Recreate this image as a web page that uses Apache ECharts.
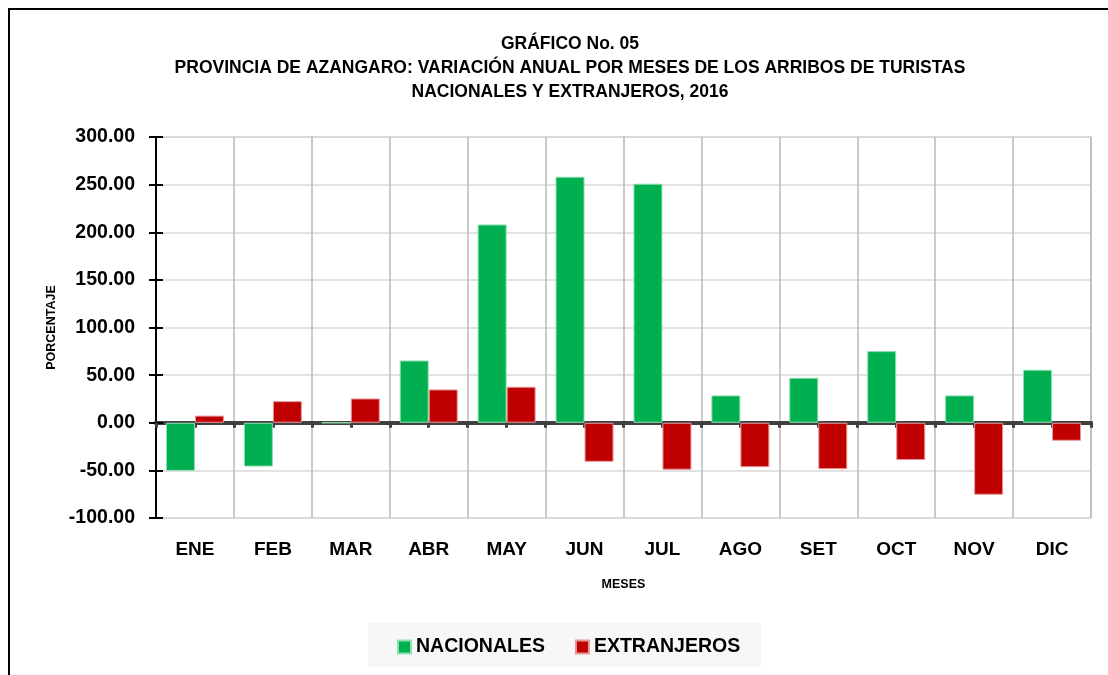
<!DOCTYPE html>
<html>
<head>
<meta charset="utf-8">
<script src="https://cdn.jsdelivr.net/npm/echarts@6/dist/echarts.min.js"></script>
<style>
  html, body { margin: 0; padding: 0; background: #fff; }
  #grafico { width: 1108px; height: 675px; }
</style>
</head>
<body>
<div id="grafico"></div>
<script>
const meses = ['ENE', 'FEB', 'MAR', 'ABR', 'MAY', 'JUN', 'JUL', 'AGO', 'SET', 'OCT', 'NOV', 'DIC']
const nacionales = [-50.5, -46.0, 0.0, 65.4, 208.2, 258.3, 251.0, 28.7, 47.2, 75.2, 28.7, 55.7]
const extranjeros = [7.5, 22.7, 25.5, 35.0, 37.8, -41.0, -49.3, -46.6, -48.7, -39.2, -75.6, -18.9]
const yTicks = { min: -100, max: 300, interval: 50 }

const FONT = "'Liberation Sans', Arial, sans-serif"
const VERDE = '#00b050'
const ROJO = '#c00000'
const EJE_CERO = '#404040'

const chart = echarts.init(document.getElementById('grafico'))

// eje auxiliar para la linea de cero con marcas en bordes y centros de categoria
function ejeCero(inside) {
  return {
    type: 'value',
    min: 0,
    max: meses.length * 2,
    interval: 1,
    position: inside ? 'top' : 'bottom',
    axisLine: { show: true, onZero: true, lineStyle: { color: EJE_CERO, width: 4 } },
    axisTick: { show: true, inside: inside, length: 5, lineStyle: { color: EJE_CERO, width: 3 } },
    axisLabel: { show: false },
    splitLine: { show: false },
    silent: true
  }
}

chart.setOption({
  animation: false,
  title: {
    text: 'GRÁFICO No. 05\nPROVINCIA DE AZANGARO: VARIACIÓN ANUAL POR MESES DE LOS ARRIBOS DE TURISTAS\nNACIONALES Y EXTRANJEROS, 2016',
    left: 565,
    textAlign: 'center',
    top: 27,
    textStyle: {
      fontFamily: FONT,
      fontSize: 17.5,
      fontWeight: 'bold',
      color: '#000',
      lineHeight: 24
    }
  },
  graphic: [
    {
      type: 'polyline',
      shape: { points: [[9, 675], [9, 9], [1108, 9]] },
      style: { stroke: '#000', lineWidth: 2, fill: null },
      silent: true
    },
    {
      type: 'rect',
      shape: { x: 368, y: 623, width: 393, height: 44 },
      style: { fill: '#f7f7f7' },
      z: -1,
      silent: true
    }
  ],
  legend: {
    left: 392,
    top: 632,
    data: ['NACIONALES', 'EXTRANJEROS'],
    icon: 'rect',
    itemWidth: 13,
    itemHeight: 13,
    itemGap: 30,
    textStyle: { fontFamily: FONT, fontSize: 19.5, fontWeight: 'bold', color: '#000' }
  },
  grid: {
    left: 156,
    right: 17,
    top: 137,
    bottom: 157,
    show: true,
    borderColor: '#cfcfcf',
    borderWidth: 1.5
  },
  xAxis: [
    {
      type: 'category',
      data: meses,
      position: 'bottom',
      name: 'MESES',
      nameLocation: 'middle',
      nameGap: 60,
      nameTextStyle: { fontFamily: FONT, fontSize: 12.5, fontWeight: 'bold', color: '#000' },
      axisLine: { show: false, onZero: false },
      axisTick: { show: false },
      axisLabel: { fontFamily: FONT, fontSize: 19, fontWeight: 'bold', color: '#000', margin: 22 },
      splitLine: { show: true, lineStyle: { color: '#b8b8b8', width: 1.5 } }
    },
    ejeCero(false),
    ejeCero(true)
  ],
  yAxis: [
    {
      type: 'value',
      min: yTicks.min,
      max: yTicks.max,
      interval: yTicks.interval,
      name: 'PORCENTAJE',
      nameLocation: 'middle',
      nameGap: 83,
      nameRotate: 90,
      nameTextStyle: { fontFamily: FONT, fontSize: 12.5, fontWeight: 'bold', color: '#000' },
      axisLine: { show: true, lineStyle: { color: '#000', width: 2 } },
      axisTick: { show: true, length: 7, lineStyle: { color: '#000', width: 2 } },
      axisLabel: {
        fontFamily: FONT,
        fontSize: 19.5,
        fontWeight: 'bold',
        color: '#000',
        margin: 21,
        formatter: (v) => v.toFixed(2)
      },
      splitLine: { show: true, lineStyle: { color: '#d9d9d9', width: 1.5 } }
    },
    {
      type: 'value',
      min: yTicks.min,
      max: yTicks.max,
      interval: yTicks.interval,
      position: 'left',
      axisLine: { show: false },
      axisTick: { show: true, inside: true, length: 7, lineStyle: { color: '#000', width: 2 } },
      axisLabel: { show: false },
      splitLine: { show: false }
    }
  ],
  series: [
    {
      name: 'NACIONALES',
      type: 'bar',
      data: nacionales,
      barWidth: 29,
      barGap: '0%',
      itemStyle: { color: VERDE, borderColor: '#8ee0b3', borderWidth: 1 }
    },
    {
      name: 'EXTRANJEROS',
      type: 'bar',
      data: extranjeros,
      barWidth: 29,
      barGap: '0%',
      itemStyle: { color: ROJO, borderColor: '#e59a9a', borderWidth: 1 }
    }
  ]
})

window.addEventListener('resize', () => chart.resize())
</script>
</body>
</html>
